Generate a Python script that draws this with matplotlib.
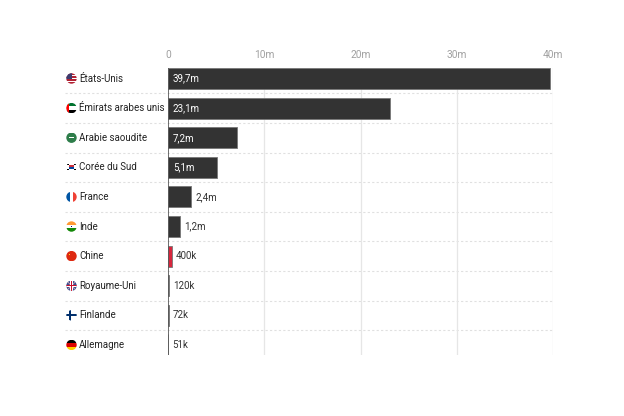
import matplotlib
matplotlib.use("Agg")
import matplotlib.pyplot as plt
from matplotlib.patches import Circle, Rectangle, Polygon
import matplotlib.transforms as mtransforms

plt.rcParams['font.family'] = ['Roboto', 'DejaVu Sans']

countries = ["États-Unis", "Émirats arabes unis", "Arabie saoudite", "Corée du Sud",
             "France", "Inde", "Chine", "Royaume-Uni", "Finlande", "Allemagne"]
values_m = [39.7, 23.1, 7.2, 5.1, 2.4, 1.2, 0.4, 0.12, 0.072, 0.051]
value_labels = ["39,7m", "23,1m", "7,2m", "5,1m", "2,4m", "1,2m", "400k", "120k", "72k", "51k"]
flag_codes = ["us", "ae", "sa", "kr", "fr", "in", "cn", "gb", "fi", "de"]
x_ticks = [0, 10, 20, 30, 40]
x_tick_labels = ["0", "10m", "20m", "30m", "40m"]
highlight = "Chine"

DARK = "#333333"
RED = "#d7263d"
FS = 7.0

W, H = 624, 416
fig = plt.figure(figsize=(W / 100, H / 100), dpi=100)
left_px, right_px, top_px, bottom_px = 168, 553, 68, 355
ax = fig.add_axes([left_px / W, 1 - bottom_px / H, (right_px - left_px) / W, (bottom_px - top_px) / H])

n = len(countries)
ypos = list(range(n))
bar_h = 0.71
colors = [RED if c == highlight else DARK for c in countries]
ax.barh(ypos, values_m, height=bar_h, color=colors, edgecolor="#777777", linewidth=0.6, zorder=3)

ax.set_xlim(0, 40)
ax.set_ylim(n - 1 + 0.34, -bar_h / 2)

ax.xaxis.tick_top()
ax.set_xticks(x_ticks)
ax.set_xticklabels(x_tick_labels, color="#a0a0a0", fontsize=FS + 0.3)
ax.tick_params(axis="x", length=0, pad=6)
ax.set_yticks([])
for s in ax.spines.values():
    s.set_visible(False)
for t in x_ticks[1:]:
    ax.axvline(t, color="#e6e6e6", linewidth=0.9, zorder=1)
ax.axvline(0, color="#555555", linewidth=1.2, zorder=4)

# row separators (dashed), extending left under labels
trans = mtransforms.blended_transform_factory(ax.transAxes, ax.transData)
x_start = (65 - left_px) / (right_px - left_px)
for i in range(n - 1):
    ax.plot([x_start, 1.0], [i + 0.5, i + 0.5], transform=trans, color="#e0e0e0",
            linewidth=0.8, linestyle=(0, (2, 2)), clip_on=False, zorder=0)

# value labels
px_per_unit = (right_px - left_px) / 40.0
for i, (v, lab) in enumerate(zip(values_m, value_labels)):
    inside = v * px_per_unit > 35
    if inside:
        ax.annotate(lab, (0, i), xytext=(3.5, 0), textcoords="offset points", va="center",
                    ha="left", color="white", fontsize=FS, zorder=6)
    else:
        ax.annotate(lab, (v, i), xytext=(3, 0), textcoords="offset points", va="center",
                    ha="left", color=DARK, fontsize=FS, zorder=6)

# country labels
lab_x = (79 - left_px) / (right_px - left_px)
for i, c in enumerate(countries):
    ax.text(lab_x, i, c, transform=trans, va="center", ha="left", fontsize=FS,
            color="#222222", zorder=6)

# flags in pixel overlay
fax = fig.add_axes([0, 0, 1, 1], zorder=10)
fax.set_xlim(0, W)
fax.set_ylim(0, H)
fax.axis("off")
fig.canvas.draw()

def flag(code, cx, cy, r=5.2):
    clip = Circle((cx, cy), r, transform=fax.transData)
    def rect(x0, y0, w, h, col):
        p = Rectangle((cx - r + x0 * 2 * r, cy - r + y0 * 2 * r), w * 2 * r, h * 2 * r,
                      color=col, linewidth=0)
        fax.add_patch(p)
        p.set_clip_path(clip)
    def hstripes(cols):
        k = len(cols)
        for j, col in enumerate(cols):
            rect(0, 1 - (j + 1) / k, 1, 1 / k, col)
    def vstripes(cols):
        k = len(cols)
        for j, col in enumerate(cols):
            rect(j / k, 0, 1 / k, 1, col)
    if code == "us":
        hstripes(["#b22234", "#ffffff"] * 3 + ["#b22234"])
        rect(0, 0.45, 0.55, 0.55, "#3c3b6e")
    elif code == "ae":
        hstripes(["#00732f", "#ffffff", "#000000"])
        rect(0, 0, 0.3, 1, "#ff0000")
    elif code == "sa":
        rect(0, 0, 1, 1, "#2e7d4a")
        rect(0.3, 0.45, 0.4, 0.12, "#ffffff")
    elif code == "kr":
        rect(0, 0, 1, 1, "#ffffff")
        rect(0.3, 0.5, 0.4, 0.2, "#cd2e3a")
        rect(0.3, 0.3, 0.4, 0.2, "#0047a0")
        for dx, dy in [(0.1, 0.7), (0.75, 0.7), (0.1, 0.2), (0.75, 0.2)]:
            rect(dx, dy, 0.15, 0.12, "#000000")
    elif code == "fr":
        vstripes(["#0055a4", "#ffffff", "#ef4135"])
    elif code == "in":
        hstripes(["#ff9933", "#ffffff", "#138808"])
        rect(0.42, 0.42, 0.16, 0.16, "#000080")
    elif code == "cn":
        rect(0, 0, 1, 1, "#de2910")
        rect(0.25, 0.6, 0.15, 0.15, "#ffde00")
    elif code == "gb":
        rect(0, 0, 1, 1, "#3b4f8f")
        for pts in ([(0, 0.05), (0.05, 0), (1, 0.95), (0.95, 1)], [(0, 0.95), (0.05, 1), (1, 0.05), (0.95, 0)]):
            p = Polygon([(cx - r + a * 2 * r, cy - r + b * 2 * r) for a, b in pts], color="#e8b0b8", linewidth=0)
            fax.add_patch(p); p.set_clip_path(clip)
        rect(0.4, 0, 0.2, 1, "#ffffff")
        rect(0, 0.4, 1, 0.2, "#ffffff")
        rect(0.45, 0, 0.1, 1, "#c8102e")
        rect(0, 0.45, 1, 0.1, "#c8102e")
    elif code == "fi":
        rect(0, 0, 1, 1, "#ffffff")
        rect(0.28, 0, 0.2, 1, "#002f6c")
        rect(0, 0.4, 1, 0.2, "#002f6c")
    elif code == "de":
        hstripes(["#000000", "#dd0000", "#ffce00"])

for i, code in enumerate(flag_codes):
    _, dy = ax.transData.transform((0, i))
    flag(code, 71.5, dy)

fig.savefig("out.png", dpi=100, facecolor="white")
